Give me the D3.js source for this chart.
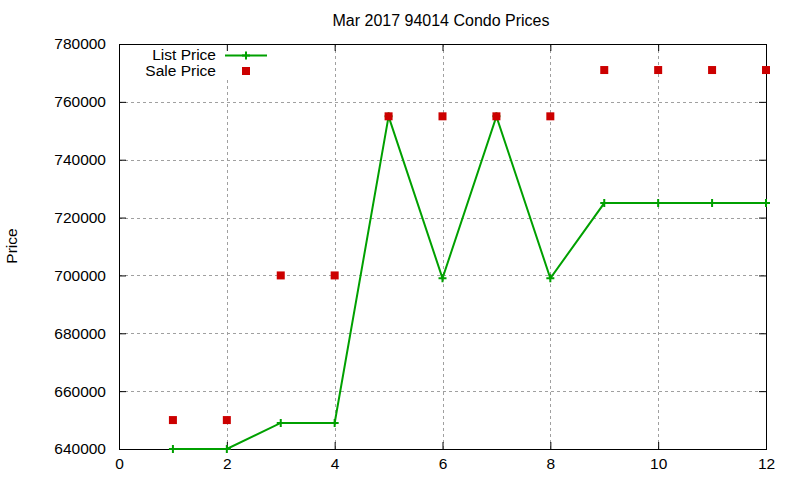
<!DOCTYPE html>
<html>
<head>
<meta charset="utf-8">
<script src="https://cdn.jsdelivr.net/npm/d3@7"></script>
<style>
  body { margin: 0; background: #fff; }
  svg { font-family: "Liberation Sans", Arial, sans-serif; }
</style>
</head>
<body>
<svg id="chart" width="800" height="480"></svg>
<script>
const months = [1, 2, 3, 4, 5, 6, 7, 8, 9, 10, 11, 12];
const listPrice = [640000, 640000, 649000, 649000, 755000, 699000, 755000, 699000, 725000, 725000, 725000, 725000];
const salePrice = [650000, 650000, 700000, 700000, 755000, 755000, 755000, 755000, 771000, 771000, 771000, 771000];
const xTicks = [0, 2, 4, 6, 8, 10, 12];
const yTicks = [640000, 660000, 680000, 700000, 720000, 740000, 760000, 780000];

const margin = { left: 119, right: 34, top: 44, bottom: 31 };
const width = 800, height = 480;
const fs = 15.5;
const svg = d3.select('#chart');

const x = d3.scaleLinear().domain([0, 12]).range([margin.left, width - margin.right]);
const y = d3.scaleLinear().domain([640000, 780000]).range([height - margin.bottom, margin.top]);

const green = '#00a000';
const red = '#cc0000';

// grid
const grid = svg.append('g').attr('stroke', '#a0a0a0').attr('stroke-dasharray', '3,3').attr('stroke-width', 1);
grid.selectAll('.gx').data(xTicks.slice(1, -1)).enter().append('line')
  .attr('x1', d => Math.round(x(d)) + 0.5).attr('x2', d => Math.round(x(d)) + 0.5)
  .attr('y1', y.range()[1]).attr('y2', y.range()[0]);
grid.selectAll('.gy').data(yTicks.slice(1, -1)).enter().append('line')
  .attr('y1', d => Math.round(y(d)) + 0.5).attr('y2', d => Math.round(y(d)) + 0.5)
  .attr('x1', x.range()[0]).attr('x2', x.range()[1]);

// legend background covers grid
svg.append('rect').attr('x', 140).attr('y', 45).attr('width', 135).attr('height', 35).attr('fill', '#fff');

// axes with mirrored inward ticks
const tick = 7;
svg.append('g').attr('transform', `translate(0,${y.range()[0]})`)
  .call(d3.axisBottom(x).tickValues(xTicks).tickSizeInner(-tick).tickSizeOuter(0).tickPadding(9))
  .call(g => g.select('.domain').remove());
svg.append('g').attr('transform', `translate(0,${y.range()[1]})`)
  .call(d3.axisTop(x).tickValues(xTicks).tickSizeInner(-tick).tickSizeOuter(0).tickFormat(''))
  .call(g => g.select('.domain').remove());
svg.append('g').attr('transform', `translate(${x.range()[0]},0)`)
  .call(d3.axisLeft(y).tickValues(yTicks).tickSizeInner(-tick).tickSizeOuter(0).tickPadding(13).tickFormat(d3.format('d')))
  .call(g => g.select('.domain').remove());
svg.append('g').attr('transform', `translate(${x.range()[1]},0)`)
  .call(d3.axisRight(y).tickValues(yTicks).tickSizeInner(-tick).tickSizeOuter(0).tickFormat(''))
  .call(g => g.select('.domain').remove());
svg.selectAll('.tick text').attr('font-size', fs).attr('fill', '#000')
  .attr('font-family', '"Liberation Sans", Arial, sans-serif');
svg.selectAll('.tick line').attr('stroke', '#000');

svg.append('rect')
  .attr('x', x.range()[0] + 0.5).attr('y', y.range()[1] + 0.5)
  .attr('width', x.range()[1] - x.range()[0]).attr('height', y.range()[0] - y.range()[1])
  .attr('fill', 'none').attr('stroke', '#000').attr('stroke-width', 1);

// list price line
const line = d3.line().x((d, i) => x(months[i])).y(d => y(d));
svg.append('path').datum(listPrice).attr('d', line)
  .attr('fill', 'none').attr('stroke', green).attr('stroke-width', 2);

const plus = (g, cx, cy) => {
  g.append('path').attr('d', `M${cx - 4},${cy}H${cx + 4}M${cx},${cy - 4}V${cy + 4}`)
    .attr('stroke', green).attr('stroke-width', 2).attr('fill', 'none');
};
const pts = svg.append('g');
listPrice.forEach((v, i) => plus(pts, x(months[i]), y(v)));

svg.append('g').selectAll('rect').data(salePrice).enter().append('rect')
  .attr('x', (d, i) => x(months[i]) - 4).attr('y', d => y(d) - 4)
  .attr('width', 8).attr('height', 8).attr('fill', red);

// legend
const legend = svg.append('g').attr('font-size', fs).attr('text-anchor', 'end');
legend.append('text').attr('x', 216).attr('y', 60).text('List Price');
legend.append('text').attr('x', 216).attr('y', 76).text('Sale Price');
legend.append('line').attr('x1', 225).attr('x2', 267).attr('y1', 55.5).attr('y2', 55.5)
  .attr('stroke', green).attr('stroke-width', 2);
plus(legend, 246, 55.5);
legend.append('rect').attr('x', 242).attr('y', 67).attr('width', 8).attr('height', 8).attr('fill', red);

// title and axis label
svg.append('text').attr('x', 441).attr('y', 26).attr('text-anchor', 'middle').attr('font-size', fs + 0.5)
  .text('Mar 2017 94014 Condo Prices');
svg.append('text').attr('transform', 'translate(17,246) rotate(-90)').attr('text-anchor', 'middle')
  .attr('font-size', fs).text('Price');
</script>
</body>
</html>
